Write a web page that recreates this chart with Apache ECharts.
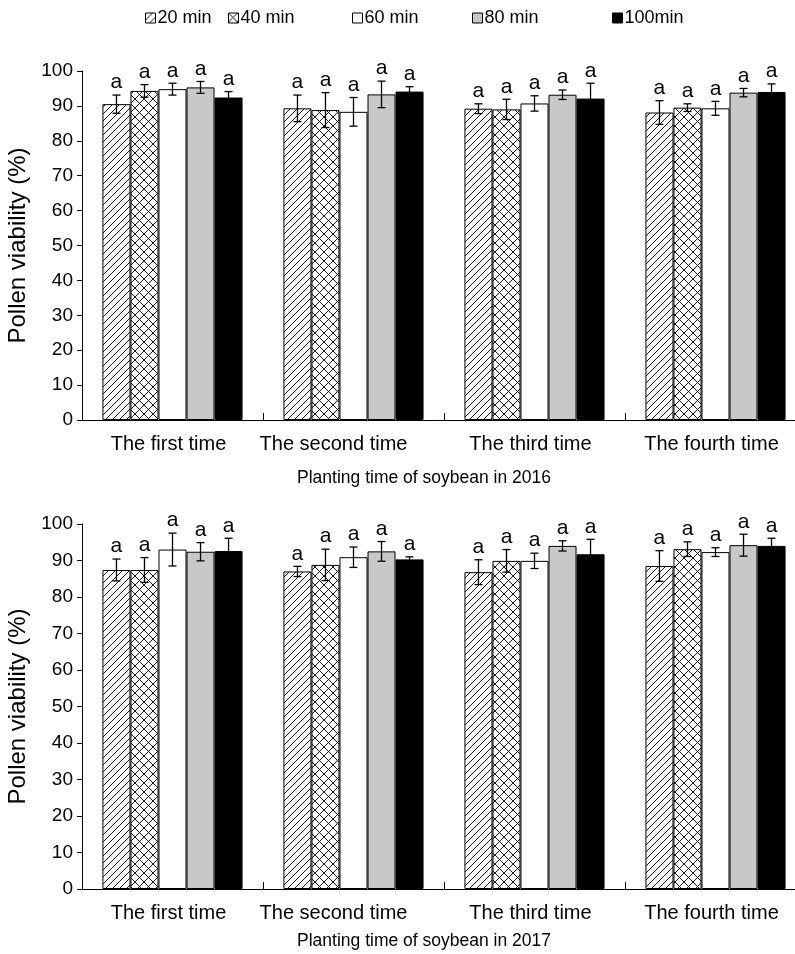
<!DOCTYPE html>
<html>
<head>
<meta charset="utf-8">
<script src="https://cdn.jsdelivr.net/npm/echarts@6/dist/echarts.min.js"></script>
<style>
  html, body { margin: 0; padding: 0; background: #fff; }
  #chart { width: 795px; height: 954px; }
</style>
</head>
<body>
<div id="chart"></div>
<script>
// ---------- data ----------
const categories = ['The first time', 'The second time', 'The third time', 'The fourth time'];
const seriesNames = ['20 min', '40 min', '60 min', '80 min', '100min'];
const yTickMin = 0, yTickMax = 100, yTickStep = 10;
const xTitle2016 = 'Planting time of soybean in 2016';
const xTitle2017 = 'Planting time of soybean in 2017';
const yTitle = 'Pollen viability (%)';
const sigLetter = 'a';

// 2016 means (per series, across planting times)
const v2016_20 = [90.5, 89.3, 89.2, 88.1];
const v2016_40 = [94.3, 88.8, 89.0, 89.5];
const v2016_60 = [94.8, 88.3, 90.7, 89.3];
const v2016_80 = [95.3, 93.3, 93.2, 93.8];
const v2016_100 = [92.4, 94.1, 92.1, 94.0];
// 2016 error (SD)
const e2016_20 = [2.6, 3.8, 1.4, 3.4];
const e2016_40 = [1.8, 5.0, 2.9, 1.1];
const e2016_60 = [1.7, 4.1, 2.2, 2.0];
const e2016_80 = [1.7, 3.8, 1.35, 1.2];
const e2016_100 = [1.7, 1.4, 4.4, 2.3];

// 2017 means
const v2017_20 = [87.4, 87.0, 86.8, 88.5];
const v2017_40 = [87.4, 88.8, 89.9, 93.1];
const v2017_60 = [93.0, 90.9, 89.9, 92.3];
const v2017_80 = [92.4, 92.5, 94.0, 94.2];
const v2017_100 = [92.6, 90.3, 91.7, 94.0];
// 2017 error
const e2017_20 = [3.0, 1.4, 3.4, 4.2];
const e2017_40 = [3.4, 4.3, 3.1, 2.0];
const e2017_60 = [4.5, 2.8, 2.1, 1.2];
const e2017_80 = [2.5, 2.7, 1.4, 3.0];
const e2017_100 = [3.5, 0.7, 4.1, 2.1];

// ---------- patterns ----------
function diagPattern() {
  const s = 7, c = document.createElement('canvas');
  c.width = s; c.height = s;
  const g = c.getContext('2d');
  g.fillStyle = '#fff'; g.fillRect(0, 0, s, s);
  g.strokeStyle = '#000'; g.lineWidth = 0.9;
  g.beginPath();
  g.moveTo(0, s); g.lineTo(s, 0);
  g.moveTo(-1, 1); g.lineTo(1, -1);
  g.moveTo(s - 1, s + 1); g.lineTo(s + 1, s - 1);
  g.stroke();
  return c;
}
function crossPattern() {
  const s = 9, c = document.createElement('canvas');
  c.width = s; c.height = s;
  const g = c.getContext('2d');
  g.fillStyle = '#fff'; g.fillRect(0, 0, s, s);
  g.strokeStyle = '#000'; g.lineWidth = 0.9;
  g.beginPath();
  g.moveTo(0, 0); g.lineTo(s, s);
  g.moveTo(0, s); g.lineTo(s, 0);
  g.stroke();
  return c;
}
const fills = [
  { image: diagPattern(), repeat: 'repeat' },
  { image: crossPattern(), repeat: 'repeat' },
  '#ffffff',
  '#c8c8c8',
  '#000000'
];

const FONT = '"Liberation Sans", Arial, sans-serif';
const GAP = 0.226;

const vals = [
  [v2016_20, v2016_40, v2016_60, v2016_80, v2016_100],
  [v2017_20, v2017_40, v2017_60, v2017_80, v2017_100]
];
const errs = [
  [e2016_20, e2016_40, e2016_60, e2016_80, e2016_100],
  [e2017_20, e2017_40, e2017_60, e2017_80, e2017_100]
];

const grids = [
  { left: 82, top: 71, width: 724, height: 349, outerBoundsMode: 'none', containLabel: false },
  { left: 82, top: 524, width: 724, height: 365, outerBoundsMode: 'none', containLabel: false }
];

const catRich = {
  n: { fontSize: 20, fontFamily: FONT, color: '#000', padding: [0, 8, 0, 0] },
  w: { fontSize: 20, fontFamily: FONT, color: '#000', padding: [0, 40, 0, 0] }
};

const xAxes = [], yAxes = [], series = [];
for (let p = 0; p < 2; p++) {
  xAxes.push({
    type: 'category', gridIndex: p, data: categories,
    axisLine: { show: true, lineStyle: { color: '#000', width: 1 } },
    axisTick: { show: true, inside: true, length: 7, lineStyle: { color: '#000' } },
    axisLabel: {
      color: '#000', fontSize: 20, fontFamily: FONT, margin: 14, interval: 0, hideOverlap: false,
      formatter: function (val, idx) { return '{' + (idx === 1 ? 'w' : 'n') + '|' + val + '}'; },
      rich: catRich
    }
  });
  yAxes.push({
    type: 'value', gridIndex: p, min: yTickMin, max: yTickMax, interval: yTickStep,
    name: yTitle, nameLocation: 'middle', nameGap: 46,
    nameTextStyle: { color: '#000', fontSize: 24, fontFamily: FONT },
    axisLine: { show: true, lineStyle: { color: '#000', width: 1 } },
    axisTick: { show: true, inside: false, length: 5, lineStyle: { color: '#000' } },
    axisLabel: { color: '#000', fontSize: 19, fontFamily: FONT, margin: 9 },
    splitLine: { show: false }
  });
  for (let s = 0; s < 5; s++) {
    series.push({
      type: 'bar', name: seriesNames[s], xAxisIndex: p, yAxisIndex: p,
      data: vals[p][s], barGap: '0%', barCategoryGap: (GAP * 100) + '%',
      itemStyle: { color: fills[s], borderColor: '#000', borderWidth: 1 },
      emphasis: { disabled: true }, animation: false
    });
  }
  const ebData = [];
  for (let s = 0; s < 5; s++) {
    for (let c = 0; c < categories.length; c++) {
      ebData.push([c, vals[p][s][c], errs[p][s][c], s]);
    }
  }
  series.push({
    type: 'custom', xAxisIndex: p, yAxisIndex: p, data: ebData, z: 10,
    animation: false, silent: true,
    renderItem: function (params, api) {
      const c = api.value(0), v = api.value(1), e = api.value(2), s = api.value(3);
      const band = api.size([1, 0])[0];
      const bw = band * (1 - GAP) / 5;
      const center = api.coord([c, v]);
      const x = center[0] + (s - 2) * bw;
      const yHi = api.coord([c, v + e])[1];
      const yLo = api.coord([c, v - e])[1];
      const cap = 4;
      const ls = { stroke: '#000', lineWidth: 1.3 };
      return {
        type: 'group',
        children: [
          { type: 'line', shape: { x1: x, y1: yHi, x2: x, y2: yLo }, style: ls },
          { type: 'line', shape: { x1: x - cap, y1: yHi, x2: x + cap, y2: yHi }, style: ls },
          { type: 'line', shape: { x1: x - cap, y1: yLo, x2: x + cap, y2: yLo }, style: ls },
          { type: 'text', x: x, y: yHi - 2,
            style: { text: sigLetter, fill: '#000', font: '21px ' + FONT, align: 'center', verticalAlign: 'bottom' } }
        ]
      };
    }
  });
}

const legendX = [145, 228, 352, 472, 612];
const legends = seriesNames.map((n, i) => ({
  data: [n], left: legendX[i], top: 9, padding: 0, itemWidth: 10, itemHeight: 10, itemGap: 2,
  icon: 'rect', selectedMode: false,
  textStyle: { color: '#000', fontSize: 18, fontFamily: FONT, padding: [0, 0, 0, -3] },
  itemStyle: { borderColor: '#000', borderWidth: 1 }
}));

const chart = echarts.init(document.getElementById('chart'), null, { renderer: 'canvas' });
chart.setOption({
  animation: false,
  backgroundColor: '#fff',
  grid: grids,
  xAxis: xAxes,
  yAxis: yAxes,
  legend: legends,
  series: series,
  graphic: [
    { type: 'text', x: 424, y: 478, style: { text: xTitle2016, fill: '#000', font: '17.5px ' + FONT, align: 'center', verticalAlign: 'middle' } },
    { type: 'text', x: 424, y: 941, style: { text: xTitle2017, fill: '#000', font: '17.5px ' + FONT, align: 'center', verticalAlign: 'middle' } }
  ]
});
</script>
</body>
</html>
